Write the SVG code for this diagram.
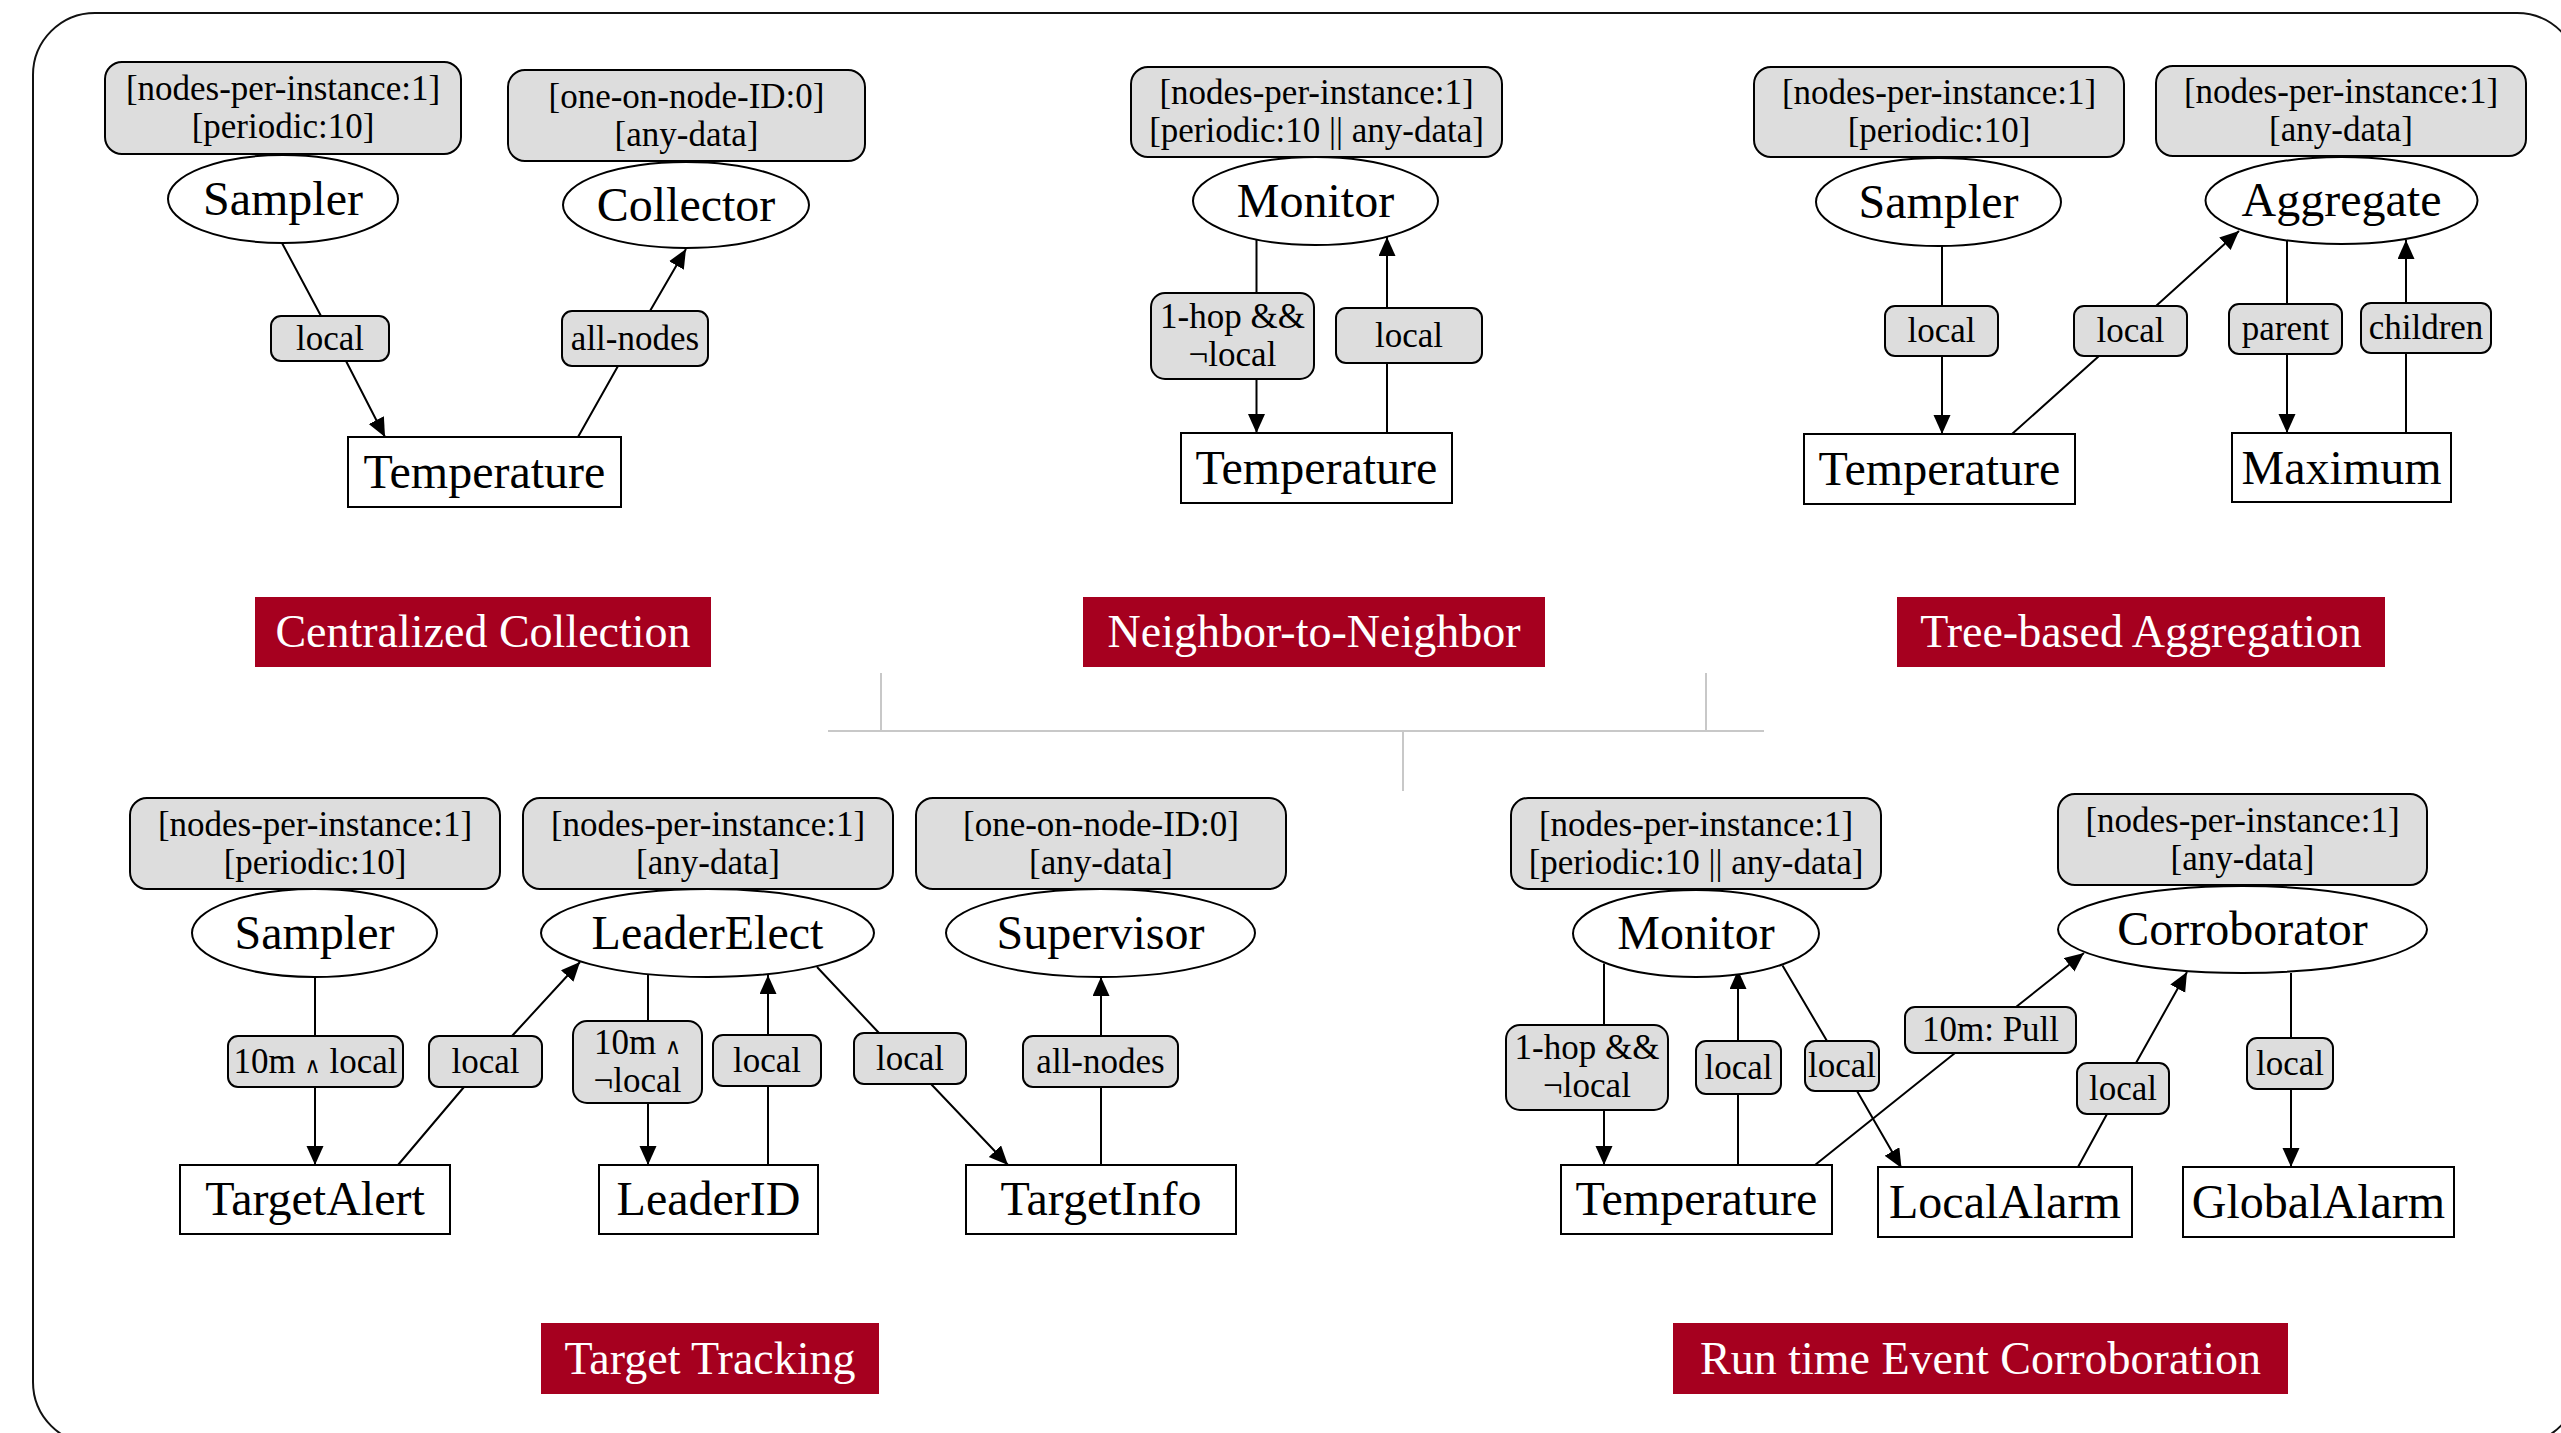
<svg xmlns="http://www.w3.org/2000/svg" width="2561" height="1433" viewBox="0 0 2561 1433">
<defs>
<style>
.cb{fill:#dddddd;stroke:#000;stroke-width:2}
.lb{fill:#dddddd;stroke:#000;stroke-width:2}
.el{fill:#fff;stroke:#000;stroke-width:2}
.rc{fill:#fff;stroke:#000;stroke-width:2}
.e{fill:none;stroke:#000;stroke-width:2;marker-end:url(#ah)}
.sep{fill:none;stroke:#c8c8c8;stroke-width:2}
.bn{fill:#a6001f}
text{font-family:"Liberation Serif","Times New Roman",serif;text-anchor:middle;fill:#000}
.t{font-size:35px}
.n{font-size:48px}
.bt{font-size:46px;fill:#fff}
.w{font-family:"DejaVu Serif",serif;font-size:22px}
</style>
<marker id="ah" markerUnits="userSpaceOnUse" markerWidth="20" markerHeight="18" refX="19" refY="8.5" orient="auto"><path d="M0,0 L19,8.5 L0,17 z" fill="#000"/></marker>
</defs>
<rect x="33" y="13" width="2546" height="1431" rx="62" fill="#fff" stroke="#111" stroke-width="2"/>
<g id="separators">
<path class="sep" d="M828,731 H1764 M881,673 V731 M1706,673 V731 M1403,731 V791"/>
</g>
<g id="connectors">
<path class="e" d="M282,243 L321,316 M346,361 L385,437"/>
<path class="e" d="M578,437 L618,366 M650,311 L686,249"/>
<path class="e" d="M1256.5,239 L1256.5,293 M1256.5,379 L1256.5,433"/>
<path class="e" d="M1387,433 L1387,363 M1387,308 L1387,237"/>
<path class="e" d="M1942,246 L1942,306 M1942,356 L1942,434"/>
<path class="e" d="M2012,434 L2099,356 M2156,306 L2239,231"/>
<path class="e" d="M2287,239 L2287,304 M2287,354 L2287,433"/>
<path class="e" d="M2406,433 L2406,353 M2406,303 L2406,240"/>
<path class="e" d="M315,977 L315,1036 M315,1087 L315,1165"/>
<path class="e" d="M398,1165 L464,1087 M512,1036 L580,962"/>
<path class="e" d="M648,975 L648,1021 M648,1103 L648,1165"/>
<path class="e" d="M768,1165 L768,1086 M768,1035 L768,975"/>
<path class="e" d="M817,967 L879,1033 M931,1084 L1008,1165"/>
<path class="e" d="M1101,1165 L1101,1087 M1101,1036 L1101,977"/>
<path class="e" d="M1604,963.5 L1604,1025 M1604,1110 L1604,1165"/>
<path class="e" d="M1738,1165 L1738,1094 M1738,1041 L1738,970"/>
<path class="e" d="M1782.5,965.5 L1827,1041 M1857,1091 L1901.5,1168"/>
<path class="e" d="M1815,1165 L1955,1053 M2016,1007 L2084,953"/>
<path class="e" d="M2078,1167 L2107,1114 M2136,1063 L2187,972"/>
<path class="e" d="M2291,973 L2291,1038 M2291,1089 L2291,1167"/>
</g>
<g id="edge-labels">
<g id="lbl-cc-local"><rect class="lb" x="271" y="316" width="118" height="45" rx="10"/><text class="t" x="330" y="350">local</text></g>
<g id="lbl-cc-allnodes"><rect class="lb" x="562" y="311" width="146" height="55" rx="10"/><text class="t" x="635" y="350">all-nodes</text></g>
<g id="lbl-nn-1hop"><rect class="lb" x="1151" y="293" width="163" height="86" rx="14"/><text class="t" x="1232.5" y="328">1-hop &amp;&amp;</text><text class="t" x="1232.5" y="366">¬local</text></g>
<g id="lbl-nn-local"><rect class="lb" x="1336" y="308" width="146" height="55" rx="10"/><text class="t" x="1409" y="347">local</text></g>
<g id="lbl-ta-local1"><rect class="lb" x="1885" y="306" width="113" height="50" rx="10"/><text class="t" x="1941.5" y="342">local</text></g>
<g id="lbl-ta-local2"><rect class="lb" x="2074" y="306" width="113" height="50" rx="10"/><text class="t" x="2130.5" y="342">local</text></g>
<g id="lbl-ta-parent"><rect class="lb" x="2229" y="304" width="113" height="50" rx="10"/><text class="t" x="2285.5" y="340">parent</text></g>
<g id="lbl-ta-children"><rect class="lb" x="2361" y="303" width="130" height="50" rx="10"/><text class="t" x="2426" y="339">children</text></g>
<g id="lbl-tt-10mlocal"><rect class="lb" x="228" y="1036" width="175" height="51" rx="10"/><text class="t" x="315.5" y="1073">10m <tspan class="w">∧</tspan> local</text></g>
<g id="lbl-tt-local1"><rect class="lb" x="429" y="1036" width="113" height="51" rx="10"/><text class="t" x="485.5" y="1073">local</text></g>
<g id="lbl-tt-10mnot"><rect class="lb" x="573" y="1021" width="129" height="82" rx="14"/><text class="t" x="637.5" y="1054">10m <tspan class="w">∧</tspan></text><text class="t" x="637.5" y="1092">¬local</text></g>
<g id="lbl-tt-local2"><rect class="lb" x="713" y="1035" width="108" height="51" rx="10"/><text class="t" x="767" y="1072">local</text></g>
<g id="lbl-tt-local3"><rect class="lb" x="854" y="1033" width="112" height="51" rx="10"/><text class="t" x="910" y="1070">local</text></g>
<g id="lbl-tt-allnodes"><rect class="lb" x="1023" y="1036" width="155" height="51" rx="10"/><text class="t" x="1100.5" y="1073">all-nodes</text></g>
<g id="lbl-rc-1hop"><rect class="lb" x="1506" y="1025" width="162" height="85" rx="14"/><text class="t" x="1587" y="1059">1-hop &amp;&amp;</text><text class="t" x="1587" y="1097">¬local</text></g>
<g id="lbl-rc-local1"><rect class="lb" x="1696" y="1041" width="85" height="53" rx="10"/><text class="t" x="1738.5" y="1079">local</text></g>
<g id="lbl-rc-local2"><rect class="lb" x="1805" y="1041" width="74" height="50" rx="10"/><text class="t" x="1842" y="1077">local</text></g>
<g id="lbl-rc-pull"><rect class="lb" x="1905" y="1007" width="171" height="46" rx="10"/><text class="t" x="1990.5" y="1041">10m: Pull</text></g>
<g id="lbl-rc-local3"><rect class="lb" x="2077" y="1063" width="92" height="51" rx="10"/><text class="t" x="2123" y="1100">local</text></g>
<g id="lbl-rc-local4"><rect class="lb" x="2247" y="1038" width="86" height="51" rx="10"/><text class="t" x="2290" y="1075">local</text></g>
</g>
<!-- Centralized Collection -->
<g id="cc-sampler-cons"><rect class="cb" x="105" y="62" width="356" height="92" rx="17"/><text class="t" x="283" y="100">[nodes-per-instance:1]</text><text class="t" x="283" y="138">[periodic:10]</text></g>
<g id="cc-sampler"><ellipse class="el" cx="283" cy="199" rx="115" ry="44"/><text class="n" x="283" y="215">Sampler</text></g>
<g id="cc-collector-cons"><rect class="cb" x="508" y="70" width="357" height="91" rx="17"/><text class="t" x="686.5" y="108">[one-on-node-ID:0]</text><text class="t" x="686.5" y="146">[any-data]</text></g>
<g id="cc-collector"><ellipse class="el" cx="686" cy="205" rx="123" ry="43"/><text class="n" x="686" y="221">Collector</text></g>
<g id="cc-temperature"><rect class="rc" x="348" y="437" width="273" height="70"/><text class="n" x="484.5" y="488">Temperature</text></g>
<g id="cc-banner"><rect class="bn" x="255" y="597" width="456" height="70"/><text class="bt" x="483" y="647">Centralized Collection</text></g>
<!-- Neighbor-to-Neighbor -->
<g id="nn-monitor-cons"><rect class="cb" x="1131" y="67" width="371" height="90" rx="17"/><text class="t" x="1316.5" y="104">[nodes-per-instance:1]</text><text class="t" x="1316.5" y="142">[periodic:10 || any-data]</text></g>
<g id="nn-monitor"><ellipse class="el" cx="1315.5" cy="201" rx="122.5" ry="44"/><text class="n" x="1315.5" y="217">Monitor</text></g>
<g id="nn-temperature"><rect class="rc" x="1181" y="433" width="271" height="70"/><text class="n" x="1316.5" y="484">Temperature</text></g>
<g id="nn-banner"><rect class="bn" x="1083" y="597" width="462" height="70"/><text class="bt" x="1314" y="647">Neighbor-to-Neighbor</text></g>
<!-- Tree-based Aggregation -->
<g id="ta-sampler-cons"><rect class="cb" x="1754" y="67" width="370" height="90" rx="17"/><text class="t" x="1939" y="104">[nodes-per-instance:1]</text><text class="t" x="1939" y="142">[periodic:10]</text></g>
<g id="ta-sampler"><ellipse class="el" cx="1938.5" cy="202" rx="122.5" ry="44"/><text class="n" x="1938.5" y="218">Sampler</text></g>
<g id="ta-aggregate-cons"><rect class="cb" x="2156" y="66" width="370" height="90" rx="17"/><text class="t" x="2341" y="103">[nodes-per-instance:1]</text><text class="t" x="2341" y="141">[any-data]</text></g>
<g id="ta-aggregate"><ellipse class="el" cx="2341.5" cy="200.5" rx="136" ry="43.5"/><text class="n" x="2341.5" y="216">Aggregate</text></g>
<g id="ta-temperature"><rect class="rc" x="1804" y="434" width="271" height="70"/><text class="n" x="1939.5" y="485">Temperature</text></g>
<g id="ta-maximum"><rect class="rc" x="2232" y="433" width="219" height="69"/><text class="n" x="2341.5" y="484">Maximum</text></g>
<g id="ta-banner"><rect class="bn" x="1897" y="597" width="488" height="70"/><text class="bt" x="2141" y="647">Tree-based Aggregation</text></g>
<!-- Target Tracking -->
<g id="tt-sampler-cons"><rect class="cb" x="130" y="798" width="370" height="91" rx="17"/><text class="t" x="315" y="836">[nodes-per-instance:1]</text><text class="t" x="315" y="874">[periodic:10]</text></g>
<g id="tt-sampler"><ellipse class="el" cx="314.5" cy="933" rx="122.5" ry="44"/><text class="n" x="314.5" y="949">Sampler</text></g>
<g id="tt-leaderelect-cons"><rect class="cb" x="523" y="798" width="370" height="91" rx="17"/><text class="t" x="708" y="836">[nodes-per-instance:1]</text><text class="t" x="708" y="874">[any-data]</text></g>
<g id="tt-leaderelect"><ellipse class="el" cx="707.5" cy="933" rx="166.5" ry="44"/><text class="n" x="707.5" y="949">LeaderElect</text></g>
<g id="tt-supervisor-cons"><rect class="cb" x="916" y="798" width="370" height="91" rx="17"/><text class="t" x="1101" y="836">[one-on-node-ID:0]</text><text class="t" x="1101" y="874">[any-data]</text></g>
<g id="tt-supervisor"><ellipse class="el" cx="1100.5" cy="933" rx="154.5" ry="44"/><text class="n" x="1100.5" y="949">Supervisor</text></g>
<g id="tt-targetalert"><rect class="rc" x="180" y="1165" width="270" height="69"/><text class="n" x="315" y="1215">TargetAlert</text></g>
<g id="tt-leaderid"><rect class="rc" x="599" y="1165" width="219" height="69"/><text class="n" x="708.5" y="1215">LeaderID</text></g>
<g id="tt-targetinfo"><rect class="rc" x="966" y="1165" width="270" height="69"/><text class="n" x="1101" y="1215">TargetInfo</text></g>
<g id="tt-banner"><rect class="bn" x="541" y="1323" width="338" height="71"/><text class="bt" x="710" y="1374">Target Tracking</text></g>
<!-- Run time Event Corroboration -->
<g id="rc-monitor-cons"><rect class="cb" x="1511" y="798" width="370" height="91" rx="17"/><text class="t" x="1696" y="836">[nodes-per-instance:1]</text><text class="t" x="1696" y="874">[periodic:10 || any-data]</text></g>
<g id="rc-monitor"><ellipse class="el" cx="1696" cy="933.5" rx="123" ry="43.5"/><text class="n" x="1696" y="949">Monitor</text></g>
<g id="rc-corroborator-cons"><rect class="cb" x="2058" y="794" width="369" height="91" rx="17"/><text class="t" x="2242.5" y="832">[nodes-per-instance:1]</text><text class="t" x="2242.5" y="870">[any-data]</text></g>
<g id="rc-corroborator"><ellipse class="el" cx="2242.5" cy="929.5" rx="184.5" ry="43.5"/><text class="n" x="2242.5" y="945">Corroborator</text></g>
<g id="rc-temperature"><rect class="rc" x="1561" y="1165" width="271" height="69"/><text class="n" x="1696.5" y="1215">Temperature</text></g>
<g id="rc-localalarm"><rect class="rc" x="1878" y="1167" width="254" height="70"/><text class="n" x="2005" y="1218">LocalAlarm</text></g>
<g id="rc-globalalarm"><rect class="rc" x="2183" y="1167" width="271" height="70"/><text class="n" x="2318.5" y="1218">GlobalAlarm</text></g>
<g id="rc-banner"><rect class="bn" x="1673" y="1323" width="615" height="71"/><text class="bt" x="1980.5" y="1374">Run time Event Corroboration</text></g>
</svg>
